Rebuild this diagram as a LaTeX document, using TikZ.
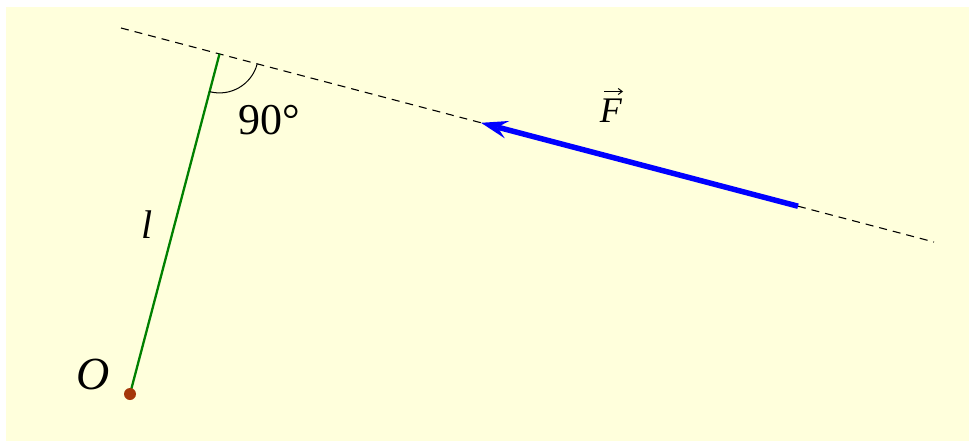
\documentclass[tikz,border=0pt]{standalone}
\usepackage{fontspec}
\setmainfont{Liberation Serif}
\usetikzlibrary{arrows.meta,calc,angles}
\definecolor{bgyellow}{RGB}{255,255,220}
\definecolor{pivot}{RGB}{165,55,10}
\definecolor{rodgreen}{RGB}{0,128,0}
\tikzset{
  lineofaction/.style={black,line width=1.1pt,dash pattern=on 8pt off 6pt},
  rod/.style={rodgreen,line width=2.3pt},
  forcevec/.style={blue,line width=5.5pt,-{Stealth[length=27pt,width=18pt,inset=10pt,line width=0pt]}},
  lbl/.style={inner sep=0pt,anchor=base},
}
\begin{document}
\begin{tikzpicture}[x=1pt,y=-1pt]
\useasboundingbox (0,0) rectangle (969,441);
\fill[bgyellow] (6,7) rectangle (969,441);
\coordinate (A) at (121,28);
\coordinate (B) at (934,242);
\coordinate (O) at (130,394);
\coordinate (P) at ($(A)!(O)!(B)$);
\coordinate (Fs) at (798,206.2);
\coordinate (Fe) at (481,122.8);
\draw[lineofaction] (A) -- (B);
\draw[rod] (O) -- (P);
\draw[forcevec] (Fs) -- (Fe);
\pic[draw,black,line width=1pt,angle radius=39pt] {angle=O--P--B};
\fill[pivot] (O) circle[radius=6pt];
\node[lbl,font=\fontsize{44}{50}\selectfont] (ang) at (269,135) {90°};
\node[lbl,font=\fontsize{46}{52}\selectfont] (Olbl) at (93,389) {\textit{O}};
\node[lbl,font=\fontsize{40}{46}\selectfont] (llbl) at (147,238) {\textit{l}};
\node[lbl,font=\fontsize{36}{42}\selectfont] (Flbl) at (611,123) {\textit{F}};
\coordinate (vs) at (604,91.5);
\coordinate (ve) at (623,91.5);
\draw[black,line width=1pt,-{Straight Barb[length=4pt,width=6pt]}] (vs) -- (ve);
\end{tikzpicture}
\end{document}
